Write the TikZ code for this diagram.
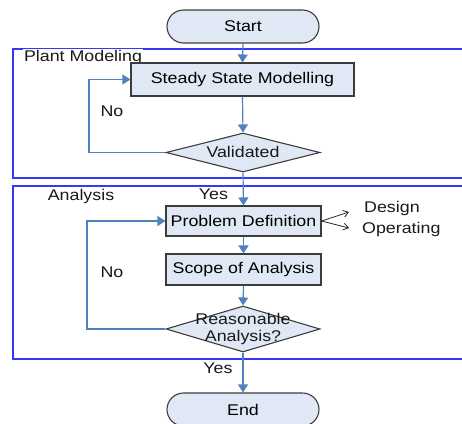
\documentclass[tikz,border=0pt]{standalone}
\usepackage{fontspec}
\setmainfont{Liberation Sans}[FakeStretch=1.15]
\usetikzlibrary{arrows.meta,shapes.geometric,positioning}
\definecolor{boxfill}{RGB}{224,232,245}
\definecolor{conn}{RGB}{79,129,189}
\definecolor{framec}{RGB}{55,55,250}
\definecolor{edgec}{RGB}{60,60,60}
\tikzset{
  txt/.style={font=\fontsize{15.5}{16.5}\selectfont, text=black!90, inner sep=0pt},
  procbox/.style={draw=edgec, line width=1.1pt, fill=boxfill, rectangle, inner sep=0pt, font=\fontsize{15.5}{16.5}\selectfont},
  pill/.style={draw=edgec, line width=1.1pt, fill=boxfill, rectangle, rounded corners=16.5pt, inner sep=0pt, font=\fontsize{15.5}{16.5}\selectfont},
  decision/.style={draw=edgec, line width=1.1pt, fill=boxfill, diamond, inner sep=0pt},
  flow/.style={draw=conn, line width=1.2pt, -{Triangle[width=10pt,length=8pt]}},
  frame/.style={draw=framec, line width=1.3pt},
  sidearrow/.style={draw=black!85, line width=0.8pt, -{Straight Barb[width=7pt,length=5pt]}}
}
\begin{document}
\begin{tikzpicture}[x=1pt,y=-1pt]
\useasboundingbox (0,0) rectangle (462,423);
% frames
\draw[frame] (470,49) -- (13,49) -- (13,178) -- (470,178);
\draw[frame] (470,186) -- (13,186) -- (13,359) -- (470,359);
\node[txt, fill=white, inner sep=1pt] (lplant) at (83,57) {Plant Modeling};
\node[txt, fill=white, inner sep=1pt] (lanal) at (81,196) {Analysis};
% nodes
\node[pill, minimum width=152pt, minimum height=33pt] (start) at (243,26.5) {Start};
\node[procbox, minimum width=223pt, minimum height=33pt] (ssm) at (242.5,79.5) {Steady State Modelling};
\node[decision, minimum width=154pt, minimum height=39pt] (val) at (243,152.5) {};
\node[txt] (valt) at (243,152) {Validated};
\node[procbox, minimum width=155pt, minimum height=30pt] (pd) at (243.5,221) {Problem Definition};
\node[procbox, minimum width=155pt, minimum height=31pt] (soa) at (243.5,269.5) {Scope of Analysis};
\node[decision, minimum width=154pt, minimum height=46pt] (ra) at (243,329) {};
\node[txt, align=center] (rat) at (243,329) {Reasonable\\Analysis?};
\node[pill, minimum width=152pt, minimum height=33pt] (end) at (243,409.5) {End};
% labels
\node[txt] (no1) at (112,111.5) {No};
\node[txt] (yes1) at (213.5,194) {Yes};
\node[txt] (no2) at (112,272) {No};
\node[txt] (yes2) at (218,368) {Yes};
\node[txt, anchor=west] (des) at (364,208.5) {Design};
\node[txt, anchor=west] (ope) at (362,229) {Operating};
\coordinate (dtip) at (349,212);
\coordinate (otip) at (349,228);
% connectors
\draw[flow] (start.south) -- (ssm.north);
\draw[flow] (ssm.south) -- (val.north);
\draw[flow] (val.west) -- (89,152.5) -- (89,79.5) -- (ssm.west);
\draw[flow] (val.south) -- (pd.north);
\draw[flow] (pd.south) -- (soa.north);
\draw[flow] (soa.south) -- (ra.north);
\draw[flow] (ra.west) -- (87,329) -- (87,221) -- (pd.west);
\draw[flow] (ra.south) -- (end.north);
\draw[sidearrow] (pd.east) -- (dtip);
\draw[sidearrow] (pd.east) -- (otip);
\end{tikzpicture}
\end{document}
